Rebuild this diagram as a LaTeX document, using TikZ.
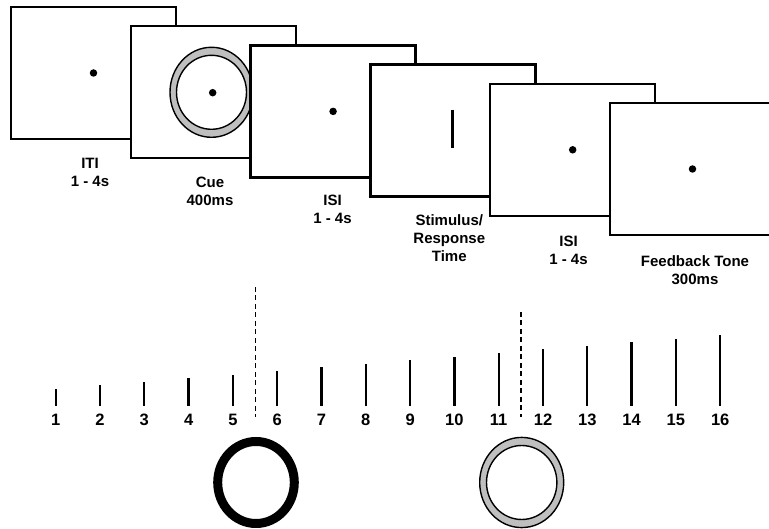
\documentclass[tikz,border=0pt]{standalone}
\usepackage{fontspec}
\setmainfont{Liberation Sans}
\begin{document}
\begin{tikzpicture}[x=1pt,y=-1pt,
  panel/.style={draw=black,fill=white,line width=2.3pt,minimum width=165pt,minimum height=132pt,inner sep=0pt,outer sep=0pt},
  fixdot/.style={circle,fill=black,minimum size=7.5pt,inner sep=0pt},
  lbl/.style={font=\fontsize{15}{18}\selectfont\bfseries,align=center,anchor=north,inner sep=0pt},
  num/.style={font=\fontsize{16.5}{18}\selectfont\bfseries,anchor=base,inner sep=0pt},
  tickline/.style={line width=2.3pt},
  sepline/.style={line width=1.8pt,dash pattern=on 5pt off 3.5pt},
  ringout/.style={draw=black,line width=1.4pt,fill=black!25},
  ringin/.style={draw=black,line width=1.4pt,fill=white}]
\clip (0,0) rectangle (769,529);
\fill[white] (0,0) rectangle (769,529);
% panels
\node[panel] (p1) at (93.5,73) {};
\node[fixdot] (f1) at (p1.center) {};
\node[panel] (p2) at (213.3,92.2) {};
\draw[ringout] (211.5,92.3) ellipse [x radius=41.5, y radius=45];
\draw[ringin] (211.5,92.3) ellipse [x radius=35, y radius=37];
\node[fixdot] (f2) at (212.7,92.7) {};
\node[panel] (p3) at (333.1,111.4) {};
\node[fixdot] (f3) at (p3.center) {};
\node[panel] (p4) at (452.9,130.6) {};
\coordinate (s1) at (452.5,110);
\coordinate (s2) at (452.5,148);
\draw[line width=2.3pt] (s1) -- (s2);
\node[panel] (p5) at (572.7,149.8) {};
\node[fixdot] (f5) at (p5.center) {};
\node[panel] (p6) at (692.5,169) {};
\node[fixdot] (f6) at (p6.center) {};
% labels
\node[lbl] (l1) at (90,157.6) {ITI\\1 - 4s};
\node[lbl] (l2) at (210,176.6) {Cue\\400ms};
\node[lbl] (l3) at (332.5,195.1) {ISI\\1 - 4s};
\node[lbl] (l4) at (449.3,214.6) {Stimulus/\\Response\\Time};
\node[lbl] (l5) at (568.5,235.6) {ISI\\1 - 4s};
\node[lbl] (l6) at (695,255.3) {Feedback Tone\\300ms};
% ticks and numbers
\foreach \i in {1,...,16}{
  \pgfmathsetmacro{\xx}{55.7+44.3*(\i-1)}
  \pgfmathsetmacro{\yt}{389-3.6*(\i-1)}
  \coordinate (tb\i) at (\xx,406);
  \coordinate (tt\i) at (\xx,\yt);
  \draw[tickline] (tb\i) -- (tt\i);
  \node[num] (n\i) at (\xx,425) {\i};
}
% separators
\coordinate (d1t) at (255.5,287);
\coordinate (d1b) at (255.5,417);
\coordinate (d2t) at (521,312);
\coordinate (d2b) at (521,417);
\draw[sepline] (d1t) -- (d1b);
\draw[sepline] (d2t) -- (d2b);
% bottom rings
\draw[line width=9pt] (256,482.5) ellipse [x radius=38.3, y radius=41];
\draw[ringout] (521.7,482.5) ellipse [x radius=42, y radius=45.1];
\draw[ringin] (521.7,482.5) ellipse [x radius=35.2, y radius=37];
\end{tikzpicture}
\end{document}
